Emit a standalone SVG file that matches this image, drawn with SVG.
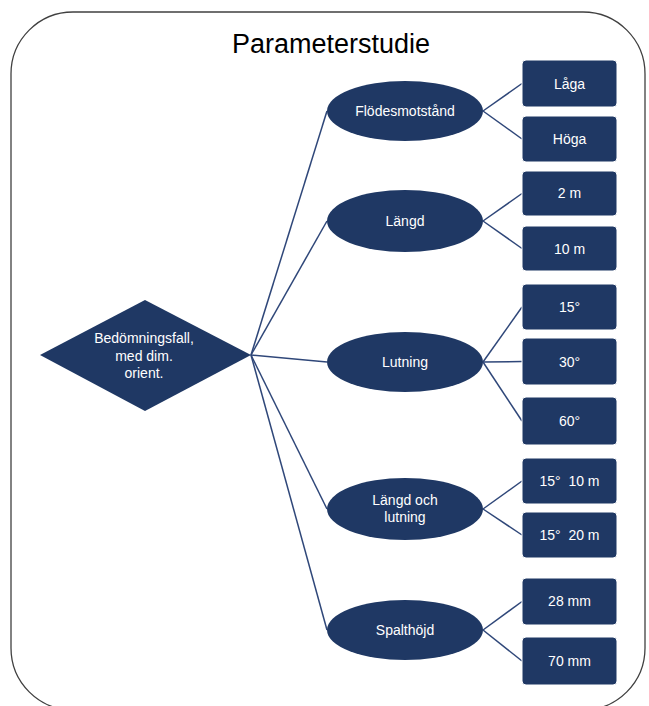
<svg xmlns="http://www.w3.org/2000/svg" width="649" height="706" viewBox="0 0 649 706">
  <style>
    .frame { fill: #ffffff; stroke: #404040; stroke-width: 1.3; }
    .title { font-family: "Liberation Sans", Arial, sans-serif; font-size: 27px; fill: #000000; text-anchor: middle; }
    .shape { fill: #1f3864; }
    .box { fill: #1f3864; stroke: #ffffff; stroke-width: 1; }
    .label { font-family: "Liberation Sans", Arial, sans-serif; font-size: 14px; fill: #ffffff; text-anchor: middle; white-space: pre; }
    .edge { stroke: #2f4779; stroke-width: 1.5; fill: none; }
  </style>

  <rect class="frame" x="11" y="12" width="634" height="698" rx="62" ry="62"/>
  <text class="title" x="331" y="53">Parameterstudie</text>

  <!-- connectors -->
  <g id="connectors">
    <line class="edge" x1="251" y1="355" x2="327" y2="111"/>
    <line class="edge" x1="251" y1="355" x2="327" y2="221"/>
    <line class="edge" x1="251" y1="355" x2="327" y2="362"/>
    <line class="edge" x1="251" y1="355" x2="327" y2="509"/>
    <line class="edge" x1="251" y1="355" x2="327" y2="630"/>

    <line class="edge" x1="483" y1="111" x2="522" y2="83.5"/>
    <line class="edge" x1="483" y1="111" x2="522" y2="139"/>
    <line class="edge" x1="483" y1="221" x2="522" y2="193.5"/>
    <line class="edge" x1="483" y1="221" x2="522" y2="248.5"/>
    <line class="edge" x1="483" y1="362" x2="522" y2="307"/>
    <line class="edge" x1="483" y1="362" x2="522" y2="361.5"/>
    <line class="edge" x1="483" y1="362" x2="522" y2="421"/>
    <line class="edge" x1="483" y1="509" x2="522" y2="481"/>
    <line class="edge" x1="483" y1="509" x2="522" y2="535"/>
    <line class="edge" x1="483" y1="630" x2="522" y2="601.5"/>
    <line class="edge" x1="483" y1="630" x2="522" y2="661"/>
  </g>

  <!-- root -->
  <g id="root">
    <polygon class="shape" points="40,355 145,300 251,355 145,411"/>
    <text class="label" x="144" y="343">Bedömningsfall,</text>
    <text class="label" x="144" y="361">med dim.</text>
    <text class="label" x="144" y="378">orient.</text>
  </g>

  <!-- parameters -->
  <g id="flodesmotstand">
    <ellipse class="shape" cx="405" cy="111" rx="78" ry="30"/>
    <text class="label" x="405" y="116">Flödesmotstånd</text>
  </g>
  <g id="langd">
    <ellipse class="shape" cx="405" cy="221" rx="78" ry="31"/>
    <text class="label" x="405" y="226">Längd</text>
  </g>
  <g id="lutning">
    <ellipse class="shape" cx="405" cy="362" rx="78" ry="30"/>
    <text class="label" x="405" y="367">Lutning</text>
  </g>
  <g id="langd-och-lutning">
    <ellipse class="shape" cx="405" cy="509" rx="78" ry="31"/>
    <text class="label" x="405" y="505">Längd och</text>
    <text class="label" x="405" y="522">lutning</text>
  </g>
  <g id="spalthojd">
    <ellipse class="shape" cx="405" cy="630" rx="78" ry="30"/>
    <text class="label" x="405" y="635">Spalthöjd</text>
  </g>

  <!-- values -->
  <g id="laga">
    <rect class="box" x="522" y="60" width="95" height="47" rx="4"/>
    <text class="label" x="569.5" y="88.5">Låga</text>
  </g>
  <g id="hoga">
    <rect class="box" x="522" y="116" width="95" height="46" rx="4"/>
    <text class="label" x="569.5" y="144">Höga</text>
  </g>
  <g id="l2m">
    <rect class="box" x="522" y="171" width="95" height="45" rx="4"/>
    <text class="label" x="569.5" y="198">2 m</text>
  </g>
  <g id="l10m">
    <rect class="box" x="522" y="226" width="95" height="45" rx="4"/>
    <text class="label" x="569.5" y="253.5">10 m</text>
  </g>
  <g id="v15">
    <rect class="box" x="522" y="284" width="95" height="46" rx="4"/>
    <text class="label" x="569.5" y="312">15°</text>
  </g>
  <g id="v30">
    <rect class="box" x="522" y="338" width="95" height="47" rx="4"/>
    <text class="label" x="569.5" y="366.5">30°</text>
  </g>
  <g id="v60">
    <rect class="box" x="522" y="397" width="95" height="48" rx="4"/>
    <text class="label" x="569.5" y="426">60°</text>
  </g>
  <g id="v15-10m">
    <rect class="box" x="522" y="458" width="95" height="46" rx="4"/>
    <text class="label" x="569.5" y="486">15°  10 m</text>
  </g>
  <g id="v15-20m">
    <rect class="box" x="522" y="512" width="95" height="46" rx="4"/>
    <text class="label" x="569.5" y="540">15°  20 m</text>
  </g>
  <g id="s28">
    <rect class="box" x="522" y="578" width="95" height="47" rx="4"/>
    <text class="label" x="569.5" y="606">28 mm</text>
  </g>
  <g id="s70">
    <rect class="box" x="522" y="637" width="95" height="48" rx="4"/>
    <text class="label" x="569.5" y="665.5">70 mm</text>
  </g>
</svg>
